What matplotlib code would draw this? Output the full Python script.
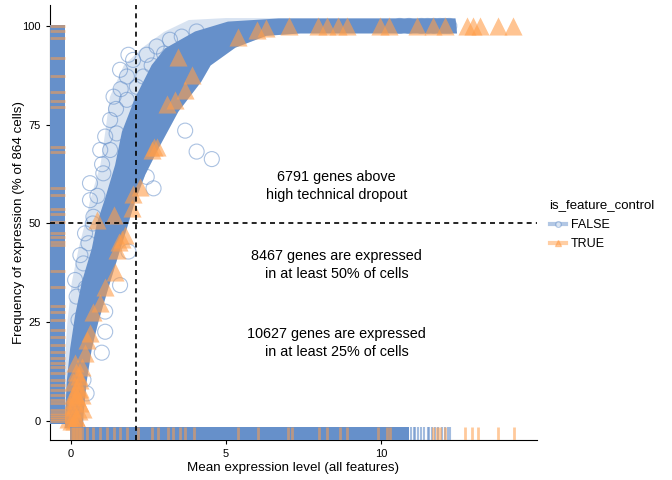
import matplotlib.pyplot as plt
from matplotlib.lines import Line2D

plt.rcParams['font.family'] = ['Liberation Sans', 'DejaVu Sans']

blue = '#6690CA'
orange = '#FF9E4A'

# dense band of FALSE features (envelope)
band_upper_x = [-0.2, -0.19, -0.14, -0.03, 0.13, 0.35, 0.67, 0.83, 1.1, 1.42, 1.64, 2.06, 2.6,
                3.03, 4.0, 5.06, 6.7, 12.4]
band_upper_y = [-1.8, 1.5, 9.9, 18.4, 26.8, 35.3, 43.7, 50, 56.4, 64.8, 73.2, 81.7, 90.1,
                94.3, 98.6, 101.1, 101.9, 101.9]
band_lower_x = [12.45, 7.4, 6.3, 5.3, 4.5, 4.2, 3.46, 2.82, 2.39, 2.06, 1.8, 1.53, 1.2, 0.88,
                0.67, 0.5, 0.4, 0.38]
band_lower_y = [98.1, 98.1, 97.5, 94.5, 90, 85.9, 78.3, 69, 62.3, 55.5, 48.8, 42, 33.6, 25.1,
                18.4, 9.9, 1.5, -1.8]
# looser zone of overlapping outlines left of the band
halo_upper_x = [-0.2, -0.2, -0.12, 0.02, 0.25, 0.45, 0.62, 0.95, 1.1, 1.25, 1.7, 2.3, 3.0, 3.8,
                5.0, 12.4]
halo_upper_y = [-1.8, 15, 25, 35, 44, 50, 56, 65, 73, 82, 90, 94.5, 98.5, 101.5, 102, 101.9]

# FALSE features lying outside the dense band
false_x = [4.05, 4.54, 3.68, 2.66, 1.85, 1.37, 1.26, 0.94, 1.26, 0.61, 0.45, 1.58, 2.0, 2.44,
           2.76, 3.19, 3.57, 4.05, 2.33, 1.8, 1.8, 2.12, 1.47, 0.61, 1.04, 0.72, 2.12, 2.44,
           1.85, 1.58, 1.1, 1.1, 0.99, 0.24, 0.18, 0.13, 0.4, 0.56, 0.47, 0.4, 0.5, 0.3,
           0.7, 0.85, 1.0, 1.1, 1.45, 1.6, 2.6, 3.0,
           10.6, 10.9, 11.3, 11.5, 11.7, 11.9, 12.05, 12.2]
false_y = [68.2, 66.3, 73.5, 58.9, 92.7, 82.1, 76.2, 68.6, 68.6, 60.2, 47.5, 88.9, 91.4, 92.7,
           94.8, 96.5, 97.3, 98.6, 87.2, 87.2, 81.3, 84.6, 72.8, 55.9, 62.7, 51.7, 62.7, 61.8,
           42.9, 34.4, 27.7, 22.6, 17.3, 25.6, 31.5, 35.7, 39.9, 45.0, 33.7, 10.4, 7.0, 42.0,
           50.0, 57.0, 65.0, 72.0, 79.0, 84.0, 90.0, 93.0,
           100, 100, 100, 100, 100, 100, 100, 100]

# feature controls
true_x = [5.4, 6.01, 6.3, 7.04, 7.98, 8.25, 8.62, 8.89, 9.97, 10.24, 11.15, 11.69, 12.06,
          12.76, 12.98, 13.19, 13.78, 14.27,
          3.46, 3.89, 3.68, 3.35, 3.09, 2.66, 2.76, 2.6, 2.22, 2.01, 1.96, 1.37, 0.83, 1.74,
          1.63, 1.53, 1.47, 1.42, 1.1, 0.94, 0.72, 0.61, 0.51, 0.45, 0.13, 0.35, 0.29, 0.18,
          0.13, 0.08, 0.02, -0.03, 0.0, 0.1, 0.2, 0.25, 0.3, 0.15, 0.2, 0.3, 0.05,
          -0.1, 0.05, 0.25, 0.35, 0.4, -0.05, 0.15]
true_y = [97.3, 99, 99.5, 100, 100, 100, 100, 100, 100, 100, 100, 100, 100,
          100, 100, 100, 100, 100,
          92.2, 87.6, 83.8, 81.3, 80.2, 69.4, 69.4, 68.6, 59.2, 57.4, 53.8, 52.2, 50.9, 47.0,
          46.2, 45.4, 43.3, 37.8, 34.0, 29.8, 27.7, 22.2, 20.5, 17.1, 14.6, 13.7, 10.4, 8.7,
          7.0, 5.3, 3.6, 1.9, 0.0, 0.0, 0.5, 2.5, 4.5, 1.0, 6.0, 8.0, 10.0,
          0.5, 6.5, 11.5, 6.5, 3.0, 4.0, 12.5]

# rugs
rug_x_false_span = (-0.05, 10.9)
rug_x_false = [10.95, 11.05, 11.1, 11.2, 11.3, 11.4, 11.5, 11.55, 11.65, 11.75, 11.85,
               11.95, 12.05, 12.15, 12.22]
rug_x_true = [0, 0.05, 0.1, 0.15, 0.2, 0.25, 0.3, 0.35, 0.5, 0.72, 0.94, 1.15, 1.37, 1.58,
              1.8, 2.17, 2.6, 2.82, 3.14, 3.3, 3.52, 3.68, 3.95, 5.4, 6.04, 7.01, 7.12, 8.01,
              8.27, 8.66, 8.91, 9.91, 10.18, 10.29, 11.69, 11.8, 11.9, 12.06, 12.71, 12.93,
              13.14, 13.76, 14.3]
rug_y_false_span = (-0.8, 100.3)
rug_y_true = [100, 98.7, 96.9, 91.8, 87.3, 83.3, 81, 79.4, 69.4, 68.2, 58.9, 57.2, 53.6, 52.5,
              50.5, 47.5, 46.7, 45.4, 44.6, 38, 34, 29.1, 27.7, 25.6, 23, 21.3, 19.2, 17.5,
              15.9, 14.6, 13.7, 12.1, 10.4, 9.1, 7.8, 6.6, 5.3, 4.5, 2.8, 2, 1.5, 1, 0.5, 0]

dropout_x = 2.1
freq_line = 50
notes = [(8.57, 59.4, '6791 genes above\nhigh technical dropout'),
         (8.57, 39.5, '8467 genes are expressed\nin at least 50% of cells'),
         (8.57, 19.7, '10627 genes are expressed\nin at least 25% of cells')]

fig = plt.figure(figsize=(6.72, 4.8), dpi=100)
ax = fig.add_axes([50 / 672, 40 / 480, 487 / 672, 435 / 480])

ax.fill(halo_upper_x + band_lower_x, halo_upper_y + band_lower_y, color=blue, alpha=0.25,
        lw=0, zorder=2)
ax.fill(band_upper_x + band_lower_x, band_upper_y + band_lower_y, color=blue, lw=0, zorder=2)
ax.scatter(false_x, false_y, s=117, facecolors='none', edgecolors=blue, linewidths=0.8,
           alpha=0.55, zorder=3)
ax.scatter(true_x, true_y, s=170, marker='^', color=orange, linewidths=0, alpha=0.6, zorder=4)

ax.axvspan(*rug_x_false_span, ymin=0, ymax=0.03, color=blue, lw=0, zorder=5)
ax.vlines(rug_x_false, 0, 0.03, transform=ax.get_xaxis_transform(), color=blue,
          lw=1.5, alpha=0.6, zorder=5)
ax.vlines(rug_x_true, 0, 0.03, transform=ax.get_xaxis_transform(), color=orange,
          lw=2, alpha=0.55, zorder=6)
ax.axhspan(*rug_y_false_span, xmin=0, xmax=0.03, color=blue, lw=0, zorder=5)
ax.hlines(rug_y_true, 0, 0.03, transform=ax.get_yaxis_transform(), color=orange,
          lw=2, alpha=0.55, zorder=6)

ax.axvline(dropout_x, color='black', lw=1.2, ls=(0, (3, 2.5)), zorder=7)
ax.axhline(freq_line, color='black', lw=1.2, ls=(0, (3, 2.5)), zorder=7)

for x, y, t in notes:
    ax.text(x, y, t, ha='center', va='center', fontsize=10.4, linespacing=1.35, zorder=8)

ax.set_xlim(-0.68, 15.03)
ax.set_ylim(-4.8, 105.3)
ax.set_xticks([0, 5, 10])
ax.set_yticks([0, 25, 50, 75, 100])
ax.tick_params(labelsize=8, length=3, width=0.8, colors='black')
ax.spines[['top', 'right']].set_visible(False)
ax.set_xlabel('Mean expression level (all features)', fontsize=9.6, labelpad=2)
ax.set_ylabel('Frequency of expression (% of 864 cells)', fontsize=9.6, labelpad=-2)

handles = [Line2D([], [], color=blue, lw=3, alpha=0.5, marker='o', ms=4, mfc='white',
                  mec=blue, mew=1),
           Line2D([], [], color=orange, lw=3, alpha=0.5, marker='^', ms=5, mfc=orange,
                  mec=orange)]
leg = fig.legend(handles, ['FALSE', 'TRUE'], title='is_feature_control', loc='upper left',
                 bbox_to_anchor=(0.801, 0.608), frameon=False, fontsize=9,
                 title_fontsize=9.5, handlelength=1.3, handletextpad=0.4, labelspacing=0.6,
                 alignment='left')

fig.savefig('out.png', dpi=100)
